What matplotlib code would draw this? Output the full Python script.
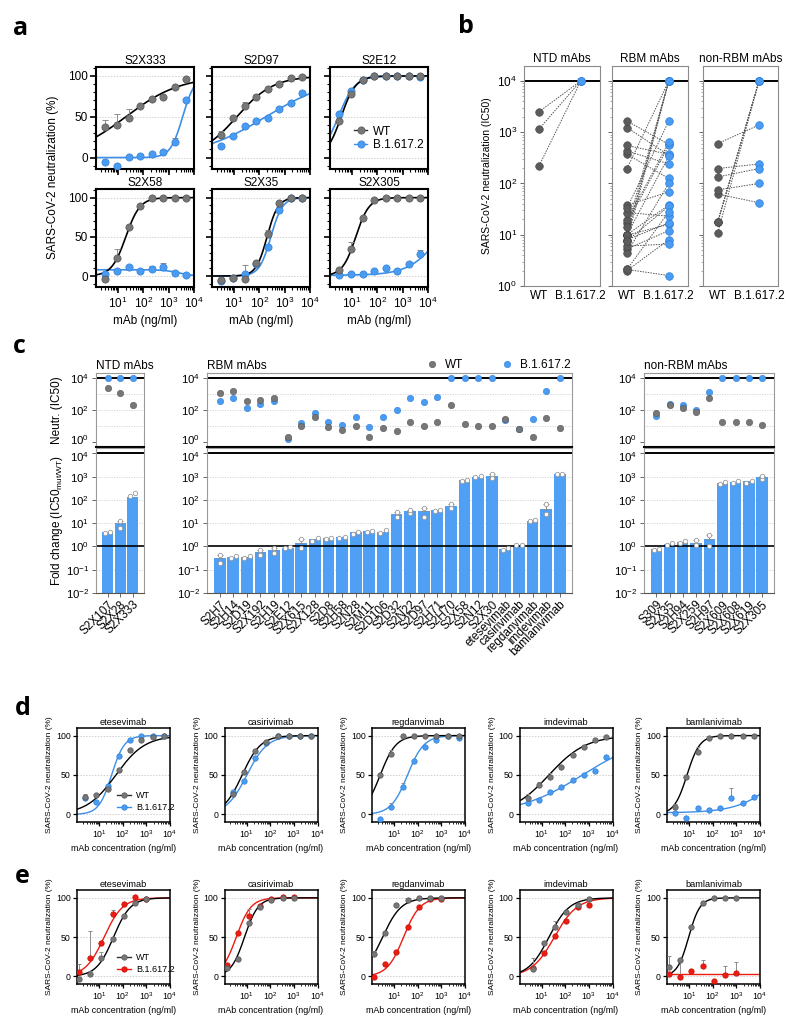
import numpy as np
import matplotlib.pyplot as plt
import matplotlib.transforms as mtransforms
from matplotlib.lines import Line2D
from matplotlib.ticker import FixedLocator, LogLocator, MultipleLocator, NullFormatter, NullLocator

plt.rcParams["font.family"] = ["Liberation Sans", "DejaVu Sans"]
plt.rcParams["mathtext.fontset"] = "custom"
plt.rcParams["mathtext.rm"] = "Liberation Sans"
plt.rcParams["mathtext.it"] = "Liberation Sans:italic"
plt.rcParams["mathtext.bf"] = "Liberation Sans:bold"

GREY = "#777777"
GREY_EDGE = "#555555"
DARK = "#5c5c5c"
BLUE = "#4a9cf2"
BLUE_EDGE = "#2f7fd8"
BLUE_LINE = "#3d8fe8"
RED = "#ec1c12"
RED_EDGE = "#c41008"
BAR = "#4f9ff5"

# ---------------- panel a ----------------
conc_a = [3.1, 8.7, 26, 72, 208, 590, 1700, 5000]
a_names = ["S2X333", "S2D97", "S2E12", "S2X58", "S2X35", "S2X305"]
a_wt = [
    [37, 40, 49, 63, 72, 74, 86, 96],
    [28, 49, 63, 74, 84, 90, 97, 99],
    [45, 78, 95, 100, 100, 100, 100, 100],
    [-4, 23, 62, 89, 100, 100, 100, 100],
    [-5, -3, -4, 16, 53, 93, 100, 100],
    [8, 34, 74, 97, 100, 100, 100, 100],
]
a_mut = [
    [-6, -10, 1, 2, 4, 7, 19, 70],
    [14, 27, 39, 45, 48, 60, 67, 79],
    [54, 81, 95, 100, 100, 100, 100, 99],
    [2, 6, 11, 6, 9, 12, 4, 1],
    [-6, -3, 3, 15, 37, 84, 100, 100],
    [1, 2, 2, 7, 10, 7, 15, 28],
]
a_wt_err = [
    [9, 13, 10, 0, 0, 0, 0, 0],
    [5, 0, 5, 3, 0, 0, 0, 0],
    [0, 6, 0, 0, 0, 0, 0, 0],
    [0, 11, 0, 0, 0, 0, 0, 0],
    [0, 0, 0, 0, 6, 0, 0, 0],
    [0, 10, 0, 0, 0, 0, 0, 0],
]
a_mut_err = [
    [0, 0, 0, 2, 0, 0, 5, 0],
    [0, 0, 0, 0, 0, 0, 0, 0],
    [0, 0, 0, 0, 0, 0, 0, 0],
    [0, 0, 3, 0, 4, 4, 0, 0],
    [0, 0, 11, 0, 0, 0, 0, 0],
    [0, 0, 0, 0, 0, 0, 0, 5],
]
# fit parameters: bottom, top, log10 EC50, hill slope
a_fit_wt = [(0, 100, 1.3, 0.4), (0, 100, 1.1, 0.6), (0, 100, 0.56, 1.5),
            (0, 100, 1.3, 1.55), (0, 100, 2.3, 2.0), (0, 100, 1.14, 1.65)]
a_fit_mut = [(0, 100, 3.55, 1.8), (0, 100, 2.25, 0.32), (0, 100, 0.45, 1.3),
             (8, 0, 3.4, 1.5), (0, 100, 2.45, 1.9), (1, 100, 4.5, 0.7)]

# ---------------- panels b and c ----------------
ntd_names = ["S2X107", "S2X28", "S2X333"]
ntd_wt = [2500, 1150, 220]
ntd_mut = [10000, 10000, 10000]
ntd_fc = [4.0, 10, 130]
ntd_lo = [3.7, 6.5, 150]
ntd_hi = [4.2, 13, 200]

rbm_names = ["S2H7", "S2H14", "S2D19", "S2X192", "S2H19", "S2E12", "S2X615", "S2X128",
             "S2D8", "S2H58", "S2N28", "S2M11", "S2D106", "S2D32", "S2N22", "S2D97",
             "S2H71", "S2H70", "S2X58", "S2N12", "S2X30", "etesevimab", "casirivimab",
             "regdanvimab", "imdevimab", "bamlanivimab"]
rbm_wt = [1230, 1650, 370, 430, 550, 2.1, 9.8, 38, 8, 5.3, 10, 2.0, 7.6, 4.5, 17, 10,
          19, 195, 14, 10, 10, 27, 6, 2.1, 33, 7.6]
rbm_mut = [355, 575, 125, 240, 370, 1.6, 16, 68, 17, 12, 38, 8, 36, 100, 550, 340,
           630, 10000, 10000, 10000, 10000, 23, 6.6, 28, 1650, 10000]
rbm_fc = [0.31, 0.37, 0.37, 0.55, 0.67, 0.87, 1.35, 2.0, 2.2, 2.5, 4.0, 4.4, 4.3, 24,
          34, 33, 37, 55, 720, 1000, 1050, 0.77, 1.15, 13, 42, 1300]
rbm_lo = [0.2, 0.33, 0.33, 0.42, 0.52, 0.82, 0.85, 1.8, 2.0, 2.3, 3.6, 4.2, 3.8, 18,
          28, 18, 34, 45, 680, 960, 900, 0.72, 1.1, 12, 25, 1250]
rbm_hi = [0.45, 0.40, 0.40, 0.72, 0.82, 0.92, 2.0, 2.2, 2.3, 2.6, 4.3, 4.5, 5.0, 30,
          38, 45, 38, 65, 750, 1100, 1300, 0.82, 1.2, 14, 70, 1350]

nonrbm_names = ["S309", "S2X35", "S2H94", "S2X259", "S2H97", "S2X609", "S2X608",
                "S2X619", "S2X305"]
nonrbm_wt = [62, 195, 134, 75, 600, 18, 18, 18, 11]
nonrbm_mut = [42, 240, 195, 100, 1380, 10000, 10000, 10000, 10000]
nonrbm_fc = [0.77, 1.25, 1.5, 1.4, 2.0, 550, 590, 630, 950]
nonrbm_lo = [0.72, 1.1, 1.4, 1.1, 1.0, 500, 530, 540, 770]
nonrbm_hi = [0.8, 1.4, 1.7, 1.9, 3.1, 570, 630, 670, 1070]

# ---------------- panels d and e ----------------
mab_names = ["etesevimab", "casirivimab", "regdanvimab", "imdevimab", "bamlanivimab"]
conc_d = [2.5, 7.5, 22.5, 68, 205, 615, 1840, 5520]
d_wt = [
    [22, 25, 32, 56, 82, 95, 98, 100],
    [26, 54, 80, 92, 99, 100, 100, 100],
    [50, 77, 99, 100, 100, 100, 100, 99],
    [21, 37, 48, 60, 75, 85, 94, 98],
    [9, 48, 79, 97, 100, 100, 100, 100],
]
d_mut = [
    [21, 16, 36, 74, 94, 100, 100, 99],
    [28, 42, 72, 90, 99, 100, 100, 100],
    [-6, 10, 35, 68, 85, 94, 99, 97],
    [15, 18, 28, 35, 44, 50, 55, 73],
    [2, -4, 8, 5, 8, 21, 14, 22],
]
d_wt_err = [
    [4, 0, 0, 0, 0, 0, 0, 0],
    [5, 0, 0, 0, 0, 0, 0, 0],
    [0, 5, 0, 0, 0, 0, 0, 0],
    [5, 4, 4, 0, 0, 0, 0, 0],
    [4, 0, 6, 0, 0, 0, 0, 0],
]
d_mut_err = [
    [0, 0, 0, 0, 0, 0, 0, 0],
    [0, 0, 0, 0, 0, 0, 0, 0],
    [0, 5, 5, 0, 0, 0, 0, 0],
    [0, 0, 0, 0, 0, 0, 0, 0],
    [0, 0, 0, 0, 0, 12, 0, 0],
]
d_fit_wt = [(0, 100, 1.7, 0.7), (0, 100, 0.8, 1.1), (0, 100, 0.4, 1.3),
            (0, 100, 1.3, 0.55), (0, 100, 0.9, 1.6)]
d_fit_mut = [(0, 100, 1.52, 1.6), (0, 100, 1.0, 1.0), (0, 100, 1.56, 1.25),
             (0, 100, 2.72, 0.32), (2, 100, 5.0, 0.5)]

conc_e = [1.37, 4.1, 12.3, 37, 111, 333, 1000]
e_wt = [
    [-3, 2.5, 23, 48, 77, 94, 99],
    [11, 22, 68, 89, 97, 100, 100],
    [29, 55, 91, 97, 100, 100, 100],
    [np.nan, 10, 43, 63, 82, 91, 99],
    [11.5, 21, 63, 93, 100, 100, 100],
]
e_mut = [
    [6, 23, 43, 79, 92, 101, 99],
    [14, 55, 77, 90, 98, 101, 101],
    [-1, 16, 31, 63, 89, 99, 98],
    [np.nan, 11, 30, 52, 70, 89, 91],
    [3, -1, 7, 13, -6, 2, 5],
]
e_wt_err = [
    [0, 4, 8, 0, 0, 0, 0],
    [0, 0, 7, 0, 0, 0, 0],
    [4, 0, 0, 0, 0, 0, 0],
    [0, 14, 0, 7, 0, 0, 0],
    [14, 0, 0, 0, 0, 0, 0],
]
e_mut_err = [
    [10, 35, 0, 5, 0, 0, 0],
    [0, 0, 9, 0, 0, 0, 0],
    [0, 0, 0, 0, 0, 0, 0],
    [0, 0, 0, 0, 0, 0, 0],
    [0, 23, 0, 8, 0, 11, 13],
]
e_fit_wt = [(0, 100, 1.6, 1.2), (0, 100, 0.9, 1.5), (0, 100, 0.5, 1.1),
            (0, 100, 1.3, 1.0), (0, 100, 0.97, 1.8)]
e_fit_mut = [(0, 100, 1.2, 1.1), (0, 100, 0.55, 1.4), (0, 100, 1.39, 1.25),
             (0, 100, 1.53, 0.9), (3, 3, 1.0, 1.0)]

W, H = 800, 1028
fig = plt.figure(figsize=(W / 100, H / 100), dpi=100)


def px_axes(left, top, right, bottom):
    return fig.add_axes([left / W, 1 - bottom / H, (right - left) / W, (bottom - top) / H])


def hill(logx, params):
    bottom, top, logec50, slope = params
    return bottom + (top - bottom) / (1 + 10 ** (slope * (logec50 - logx)))


def sup(n):
    return r"$\mathregular{10^{%d}}$" % n


def nudge(label, dy_px):
    label.set_transform(label.get_transform()
                        + mtransforms.ScaledTranslation(0, dy_px / 100, fig.dpi_scale_trans))


def dose_panel(ax, conc, wt, mut, wt_err, mut_err, fit_wt, fit_mut, mcol, medge, lcol,
               xlim, ylim, ms, lw):
    ax.set_xscale("log")
    ax.set_xlim(*xlim)
    ax.set_ylim(*ylim)
    for y in (0, 50, 100):
        ax.axhline(y, color="#d0d0d0", lw=0.7, ls=(0, (1.5, 1.5)), zorder=0)
    xs = np.logspace(np.log10(xlim[0]), np.log10(xlim[1]), 300)
    ax.plot(xs, hill(np.log10(xs), fit_mut), color=lcol, lw=lw, zorder=2)
    ax.plot(xs, hill(np.log10(xs), fit_wt), color="black", lw=lw, zorder=2)
    c = np.array(conc, float)
    for vals, err, fc, ec in ((mut, mut_err, mcol, medge), (wt, wt_err, GREY, GREY_EDGE)):
        v = np.array(vals, float)
        e = np.array(err, float)
        m = e > 0
        if m.any():
            ax.errorbar(c[m], v[m], yerr=[np.zeros(m.sum()), e[m]], fmt="none",
                        ecolor="#8c8c8c", elinewidth=0.7, capsize=ms * 0.45,
                        capthick=0.7, zorder=3)
        ax.plot(c, v, "o", ms=ms, mfc=fc, mec=ec, mew=0.5, ls="none", zorder=4)
    ax.xaxis.set_major_locator(FixedLocator([10, 100, 1000, 10000]))
    ax.xaxis.set_minor_locator(LogLocator(base=10, subs=np.arange(2, 10), numticks=20))
    ax.xaxis.set_minor_formatter(NullFormatter())
    ax.set_xticklabels([sup(1), sup(2), sup(3), sup(4)])
    ax.set_yticks([0, 50, 100])


def dose_legend(ax, mcol, medge, lcol, ms, fs, pos, hl, ls):
    handles = [Line2D([], [], color="#333333", lw=1.0, marker="o", ms=ms, mfc=GREY,
                      mec=GREY_EDGE, mew=0.5),
               Line2D([], [], color=lcol, lw=1.0, marker="o", ms=ms, mfc=mcol,
                      mec=medge, mew=0.5)]
    ax.legend(handles, ["WT", "B.1.617.2"], loc="center left", bbox_to_anchor=pos,
              frameon=False, fontsize=fs, handlelength=hl, handletextpad=0.5,
              labelspacing=ls, borderpad=0, borderaxespad=0)


# ---------------- draw panel a ----------------
a_cols = [(96, 194), (212, 310), (330, 428)]
a_rows = [(67, 169), (189, 287)]
for i, name in enumerate(a_names):
    r, k = divmod(i, 3)
    ax = px_axes(a_cols[k][0], a_rows[r][0], a_cols[k][1], a_rows[r][1])
    dose_panel(ax, conc_a, a_wt[i], a_mut[i], a_wt_err[i], a_mut_err[i],
               a_fit_wt[i], a_fit_mut[i], BLUE, BLUE_EDGE, BLUE_LINE,
               (10 ** 0.12, 1e4), (-14, 111), 5.2, 1.2)
    ax.yaxis.set_minor_locator(MultipleLocator(10))
    for s in ax.spines.values():
        s.set_linewidth(1.5)
    ax.tick_params(which="major", length=4, width=1.2, labelsize=8.5, pad=2)
    ax.tick_params(which="minor", length=2, width=0.8)
    ax.set_title(name, fontsize=8.5, pad=2)
    if k > 0:
        ax.set_yticklabels([])
    if r == 0:
        ax.set_xticklabels([])
    else:
        ax.set_xlabel("mAb (ng/ml)", fontsize=8.5, labelpad=3)
    if name == "S2E12":
        dose_legend(ax, BLUE, BLUE_EDGE, BLUE_LINE, 5.2, 8.5, (0.245, 0.3), 1.1, 0.15)

fig.text(53 / W, 1 - 177 / H, "SARS-CoV-2 neutralization (%)", rotation=90,
         ha="center", va="center", fontsize=8.5)

# ---------------- draw panel b ----------------
b_boxes = [(524, 600), (612, 688), (703, 778)]
b_groups = [(ntd_wt, ntd_mut, "NTD mAbs"), (rbm_wt, rbm_mut, "RBM mAbs"),
            (nonrbm_wt, nonrbm_mut, "non-RBM mAbs")]
for j, ((l, rgt), (wt, mut, title)) in enumerate(zip(b_boxes, b_groups)):
    ax = px_axes(l, 66, rgt, 286)
    ax.set_yscale("log")
    ax.set_ylim(1, 10 ** 4.29)
    ax.set_xlim(-0.36, 1.46)
    for w, m in zip(wt, mut):
        ax.plot([0, 1], [w, m], color="#555555", lw=0.7, ls=(0, (1.5, 1.2)), zorder=1)
    ax.axhline(1e4, color="black", lw=1.4, zorder=2)
    ax.plot(np.zeros(len(wt)), wt, "o", ms=5.5, mfc=DARK, mec="#444444", mew=0.4,
            ls="none", zorder=3)
    ax.plot(np.ones(len(mut)), mut, "o", ms=5.5, mfc=BLUE, mec=BLUE_EDGE, mew=0.5,
            ls="none", zorder=3)
    for s in ax.spines.values():
        s.set_color("#8a8a8a")
        s.set_linewidth(0.8)
    ax.set_xticks([0, 1], ["WT", "B.1.617.2"])
    ax.tick_params(axis="x", length=0, labelsize=8.5, pad=3)
    ax.yaxis.set_major_locator(FixedLocator([1, 10, 100, 1000, 10000]))
    ax.yaxis.set_minor_locator(LogLocator(base=10, subs=np.arange(2, 10), numticks=20))
    ax.yaxis.set_minor_formatter(NullFormatter())
    ax.tick_params(axis="y", which="major", length=3, width=0.7, color="#666666",
                   labelsize=8.5, pad=2)
    ax.tick_params(axis="y", which="minor", length=1.5, width=0.5, color="#888888")
    if j == 0:
        ax.set_yticklabels([sup(n) for n in range(5)])
    else:
        ax.set_yticklabels([])
    ax.set_title(title, fontsize=8.5, pad=3)

fig.text(487 / W, 1 - 176 / H, "SARS-CoV-2 neutralization (IC50)", rotation=90,
         ha="center", va="center", fontsize=7.5)

# ---------------- draw panel c ----------------


def fold_group(left, right, names, wt, mut, fc, lo, hi, title):
    n = len(names)
    x = np.arange(n)
    top_ax = px_axes(left, 373, right, 447)
    bot_ax = px_axes(left, 448, right, 593)
    for ax in (top_ax, bot_ax):
        ax.set_yscale("log")
        ax.set_xlim(-0.93, n - 0.1)
        for s in ax.spines.values():
            s.set_color("#9a9a9a")
            s.set_linewidth(0.8)
        ax.tick_params(axis="y", which="major", length=3, width=0.7, color="#666666",
                       labelsize=8.2, pad=2)
        ax.yaxis.set_minor_locator(NullLocator())
    # neutralisation IC50
    top_ax.set_ylim(10 ** -0.32, 10 ** 4.32)
    for y in (10, 100, 1000):
        top_ax.axhline(y, color="#d0d0d0", lw=0.6, ls=(0, (1.5, 1.5)), zorder=0)
    top_ax.axhline(1e4, color="black", lw=1.4, zorder=1)
    top_ax.spines["bottom"].set_color("black")
    top_ax.spines["bottom"].set_linewidth(1.5)
    top_ax.plot(x, mut, "o", ms=4.6, mfc=BLUE, mec=BLUE_EDGE, mew=0.4, ls="none", zorder=3)
    top_ax.plot(x, wt, "o", ms=4.6, mfc=GREY, mec=GREY_EDGE, mew=0.4, ls="none", zorder=4)
    top_ax.set_yticks([1, 100, 10000], [sup(0), sup(2), sup(4)])
    top_ax.set_xticks([])
    top_ax.set_title(title, loc="left", fontsize=8.5, pad=3)
    nudge(top_ax.get_yticklabels()[0], 3)
    # fold change
    bot_ax.set_ylim(1e-2, 10 ** 4.23)
    for y in (0.1, 10, 100, 1000):
        bot_ax.axhline(y, color="#d0d0d0", lw=0.6, ls=(0, (1.5, 1.5)), zorder=0)
    fcv = np.array(fc, float)
    bot_ax.bar(x, fcv - 1e-2, bottom=1e-2, width=0.86, color=BAR, zorder=1)
    bot_ax.axhline(1e4, color="black", lw=1.4, zorder=2)
    bot_ax.axhline(1, color="black", lw=1.2, zorder=2)
    lov = np.array(lo, float)
    hiv = np.array(hi, float)
    spread = hiv / lov > 1.35
    if spread.any():
        bot_ax.errorbar(x[spread], fcv[spread],
                        yerr=[np.zeros(spread.sum()), hiv[spread] - fcv[spread]],
                        fmt="none", ecolor="#8c8c8c", elinewidth=0.7, capsize=2,
                        capthick=0.7, zorder=3)
    off = np.where(spread, 0.0, 0.2)
    for xs, ys in ((x - off, lov), (x + off, hiv)):
        bot_ax.plot(xs, ys, "o", ms=3.2, mfc="white", mec="#9a9a9a", mew=0.6,
                    ls="none", zorder=4)
    bot_ax.spines["bottom"].set_color("#555555")
    bot_ax.set_yticks([10.0 ** k for k in range(-2, 5)], [sup(k) for k in range(-2, 5)])
    nudge(bot_ax.get_yticklabels()[-1], -3)
    bot_ax.set_xticks(x)
    bot_ax.set_xticklabels(names, rotation=45, ha="right", rotation_mode="anchor",
                           fontsize=8.5)
    bot_ax.tick_params(axis="x", length=3, width=0.7, color="#666666", pad=1)
    return top_ax, bot_ax


fold_group(96, 144, ntd_names, ntd_wt, ntd_mut, ntd_fc, ntd_lo, ntd_hi, "NTD mAbs")
rbm_top, _ = fold_group(207, 572, rbm_names, rbm_wt, rbm_mut, rbm_fc, rbm_lo, rbm_hi,
                        "RBM mAbs")
fold_group(644, 774, nonrbm_names, nonrbm_wt, nonrbm_mut, nonrbm_fc, nonrbm_lo,
           nonrbm_hi, "non-RBM mAbs")
c_handles = [Line2D([], [], ls="none", marker="o", ms=4.6, mfc=GREY, mec=GREY_EDGE, mew=0.4),
             Line2D([], [], ls="none", marker="o", ms=4.6, mfc=BLUE, mec=BLUE_EDGE, mew=0.4)]
rbm_top.legend(c_handles, ["WT", "B.1.617.2"], loc="lower right", bbox_to_anchor=(1.0, 1.0),
               ncol=2, frameon=False, fontsize=8.5, columnspacing=3.2, handletextpad=0.6,
               handlelength=1.0, borderaxespad=0.15, borderpad=0)
fig.text(57 / W, 1 - 410 / H, "Neutr. (IC50)", rotation=90, ha="center", va="center",
         fontsize=8.5)
fig.text(57 / W, 1 - 520 / H, r"Fold change (IC50$_{\mathregular{mut/WT}}$)", rotation=90,
         ha="center", va="center", fontsize=8.5)

# ---------------- draw panels d and e ----------------
de_lefts = [77, 224.5, 372, 519.5, 667]
for row, (top, bottom, conc, wt_all, mut_all, wt_err, mut_err, fw, fm, mcol, medge, lcol) in enumerate([
        (727.7, 822.3, conc_d, d_wt, d_mut, d_wt_err, d_mut_err, d_fit_wt, d_fit_mut,
         BLUE, BLUE_EDGE, BLUE_LINE),
        (890, 984.3, conc_e, e_wt, e_mut, e_wt_err, e_mut_err, e_fit_wt, e_fit_mut,
         RED, RED_EDGE, RED)]):
    for i, name in enumerate(mab_names):
        l = de_lefts[i]
        ax = px_axes(l, top, l + 93, bottom)
        dose_panel(ax, conc, wt_all[i], mut_all[i], wt_err[i], mut_err[i], fw[i], fm[i],
                   mcol, medge, lcol, (10 ** 0.05, 1e4), (-10, 110), 3.9, 1.0)
        for s in ax.spines.values():
            s.set_linewidth(1.1)
        ax.tick_params(which="major", length=3, width=0.9, labelsize=6.3, pad=1.5)
        ax.tick_params(which="minor", length=1.5, width=0.6)
        ax.set_title(name, fontsize=6.6, pad=2)
        ax.set_xlabel("mAb concentration (ng/ml)", fontsize=6.4, labelpad=2.5)
        ax.set_ylabel("SARS-CoV-2 neutralization (%)", fontsize=6.0, labelpad=2)
        if i == 0:
            dose_legend(ax, mcol, medge, lcol, 3.9, 6.5, (0.43, 0.22), 1.6, 0.4)

# ---------------- panel letters ----------------
for letter, xl, yb in (("a", 13, 35), ("b", 458, 33), ("c", 13, 353), ("d", 15, 715),
                       ("e", 15, 883)):
    fig.text(xl / W, 1 - yb / H, letter, fontsize=18, fontweight="bold",
             family=["Open Sans", "DejaVu Sans"], ha="left", va="baseline")

fig.savefig("out.png", dpi=100)
